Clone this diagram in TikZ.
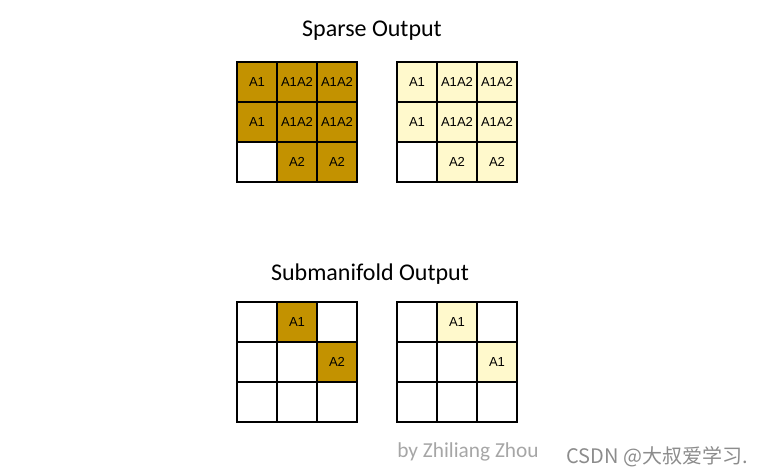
\documentclass[tikz,border=0pt]{standalone}
\usepackage{fontspec}
\setmainfont{Liberation Sans}
\newfontfamily\titlefont{Carlito}
\newfontfamily\cjkfont{Noto Sans CJK SC}
\usetikzlibrary{positioning}
\definecolor{spGold}{HTML}{C39200}
\definecolor{spCream}{HTML}{FFF9CC}
\definecolor{spByline}{HTML}{A6A6A6}
\definecolor{spCsdn}{HTML}{8C8C8C}

\begin{document}
\begin{tikzpicture}[
    node distance=0pt,
    cell/.style={
        draw=black, line width=0.9pt, minimum size=30pt, inner sep=0pt,
        outer sep=0pt, fill=white, font=\fontsize{9.8}{11}\selectfont,
        anchor=center
    },
    gold/.style={cell, fill=spGold},
    cream/.style={cell, fill=spCream},
    ttl/.style={font=\titlefont\fontsize{18}{21}\selectfont, anchor=center}
]
\useasboundingbox (0,0) rectangle (569.25pt,-356.25pt);

% === Sparse output, left grid ===
\node[gold] (sa_11) at (192.75pt,-61.5pt) {A1};
\node[gold, right=of sa_11] (sa_12) {A1A2};
\node[gold, right=of sa_12] (sa_13) {A1A2};
\node[gold, below=of sa_11] (sa_21) {A1};
\node[gold, below=of sa_12] (sa_22) {A1A2};
\node[gold, below=of sa_13] (sa_23) {A1A2};
\node[cell, below=of sa_21] (sa_31) {};
\node[gold, below=of sa_22] (sa_32) {A2};
\node[gold, below=of sa_23] (sa_33) {A2};

% === Sparse output, right grid ===
\node[cream, right=30pt of sa_13] (sb_11) {A1};
\node[cream, right=of sb_11] (sb_12) {A1A2};
\node[cream, right=of sb_12] (sb_13) {A1A2};
\node[cream, below=of sb_11] (sb_21) {A1};
\node[cream, below=of sb_12] (sb_22) {A1A2};
\node[cream, below=of sb_13] (sb_23) {A1A2};
\node[cell, below=of sb_21] (sb_31) {};
\node[cream, below=of sb_22] (sb_32) {A2};
\node[cream, below=of sb_23] (sb_33) {A2};

% === Submanifold output, left grid ===
\node[cell, below=90pt of sa_31] (ma_11) {};
\node[gold, right=of ma_11] (ma_12) {A1};
\node[cell, right=of ma_12] (ma_13) {};
\node[cell, below=of ma_11] (ma_21) {};
\node[cell, below=of ma_12] (ma_22) {};
\node[gold, below=of ma_13] (ma_23) {A2};
\node[cell, below=of ma_21] (ma_31) {};
\node[cell, below=of ma_22] (ma_32) {};
\node[cell, below=of ma_23] (ma_33) {};

% === Submanifold output, right grid ===
\node[cell, right=30pt of ma_13] (mb_11) {};
\node[cream, right=of mb_11] (mb_12) {A1};
\node[cell, right=of mb_12] (mb_13) {};
\node[cell, below=of mb_11] (mb_21) {};
\node[cell, below=of mb_12] (mb_22) {};
\node[cream, below=of mb_13] (mb_23) {A1};
\node[cell, below=of mb_21] (mb_31) {};
\node[cell, below=of mb_22] (mb_32) {};
\node[cell, below=of mb_23] (mb_33) {};

% Titles
\node[ttl] (t_sparse) at (279pt,-23.25pt) {Sparse Output};
\node[ttl] (t_subm) at (277.5pt,-205.5pt) {Submanifold Output};

% Byline and watermark
\node[font=\titlefont\fontsize{16}{18}\selectfont, text=spByline]
      (byline) at (351pt,-339pt) {by Zhiliang Zhou};
\node[font=\cjkfont\fontsize{15}{17}\selectfont, text=spCsdn]
      (csdn) at (492.75pt,-342.75pt) {CSDN @大叔爱学习.};

\end{tikzpicture}
\end{document}
